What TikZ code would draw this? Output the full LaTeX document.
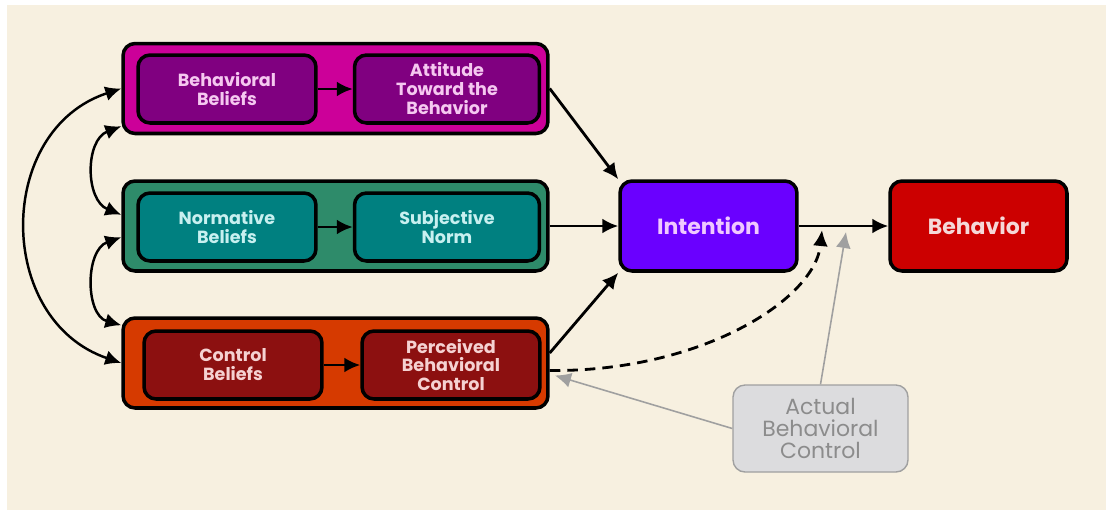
\documentclass[tikz,border=0pt]{standalone}
\usepackage{fontspec}
\setmainfont{Poppins}
\usetikzlibrary{arrows.meta,positioning}
\definecolor{paper}{RGB}{247,240,224}
\definecolor{attgroup}{RGB}{204,0,153}
\definecolor{attbox}{RGB}{128,0,128}
\definecolor{atttext}{RGB}{245,200,240}
\definecolor{normgroup}{RGB}{46,139,106}
\definecolor{normbox}{RGB}{0,128,128}
\definecolor{normtext}{RGB}{200,240,240}
\definecolor{ctrlgroup}{RGB}{214,58,0}
\definecolor{ctrlbox}{RGB}{140,16,16}
\definecolor{ctrltext}{RGB}{245,210,210}
\definecolor{intfill}{RGB}{106,0,255}
\definecolor{inttext}{RGB}{240,200,255}
\definecolor{behfill}{RGB}{204,0,0}
\definecolor{behtext}{RGB}{245,216,216}
\definecolor{actfill}{RGB}{220,220,222}
\definecolor{actline}{RGB}{160,160,160}
\definecolor{acttext}{RGB}{140,140,140}
\tikzset{%
  >={Latex[width=3mm,length=3.2mm]},
  % Specifications for style of nodes:
            base/.style = {rectangle, rounded corners=0.24cm, draw=black, line width=2pt,
                           text centered, align=center, inner sep=1pt,
                           font=\fontsize{10}{10.8}\selectfont\bfseries},
         group/.style = {base, minimum width=8.5cm, minimum height=1.8cm},
         inner/.style = {base, minimum width=3.56cm, minimum height=1.36cm},
        attgrp/.style = {group, fill=attgroup},
        attin/.style = {inner, fill=attbox, text=atttext},
       normgrp/.style = {group, fill=normgroup},
        normin/.style = {inner, fill=normbox, text=normtext},
       ctrlgrp/.style = {group, fill=ctrlgroup},
        ctrlin/.style = {inner, fill=ctrlbox, text=ctrltext},
       outcome/.style = {base, minimum width=3.54cm, minimum height=1.8cm,
                           font=\fontsize{12.5}{14}\selectfont\bfseries},
        actual/.style = {base, line width=0.8pt, draw=actline, fill=actfill,
                           text=acttext, minimum width=3.5cm, minimum height=1.74cm,
                           font=\fontsize{12.5}{12.5}\selectfont},
         link/.style = {->, line width=1.6pt},
}

\begin{document}
\begin{tikzpicture}[x=0.02cm, y=-0.02cm]
  % Background
  \fill[white] (0,0) rectangle (1112,515);
  \fill[paper] (7,5) rectangle (1106,510);
  \useasboundingbox (0,0) rectangle (1112,515);

  % Specification of nodes (position, etc.)
  \node (att)   [attgrp]  at (335.5,88.5) {};
  \node (norm)  [normgrp] at (335.5,226) {};
  \node (ctrl)  [ctrlgrp] at (335.5,363) {};

  \node (bb)    [attin]  at (227,89) {Behavioral\\Beliefs};
  \node (atb)   [attin, minimum width=3.7cm]  at (447,89) {Attitude\\Toward the\\Behavior};
  \node (nb)    [normin] at (227,227) {Normative\\Beliefs};
  \node (sn)    [normin, minimum width=3.7cm] at (447,227) {Subjective\\Norm};
  \node (cb)    [ctrlin] at (233,365) {Control\\Beliefs};
  \node (pbc)   [ctrlin] at (451,365) {Perceived\\Behavioral\\Control};

  \node (int)   [outcome, fill=intfill, text=inttext] at (708.5,226) {Intention};
  \node (beh)   [outcome, fill=behfill, text=behtext] at (978.5,226) {Behavior};
  \node (abc)   [actual] at (820.5,428.5) {Actual\\Behavioral\\Control};

  \coordinate (dashtip) at (822,230);
  \coordinate (greytip) at (846,232);

  % Arrows inside the groups
  \draw[link]  (bb) -- (atb);
  \draw[link]  (nb) -- (sn);
  \draw[link]  (cb) -- (pbc);

  % Correlations on the left
  \draw[<->, line width=1.4pt]  (att.west) .. controls (-5,130) and (-5,320) .. (ctrl.west);
  \draw[<->, line width=1.4pt]  (att.190) .. controls (85,140) and (85,200) .. (norm.177);
  \draw[<->, line width=1.4pt]  (norm.183) .. controls (85,250) and (85,315) .. (ctrl.170);

  % Arrows to intention and behavior
  \draw[link]  (att.east) -- (int.north west);
  \draw[link]  (norm.east) -- (int.west);
  \draw[link]  ([yshift=0.2cm]ctrl.east) -- (int.south west);
  \draw[link]  (int) -- (beh);
  \draw[link, dashed, dash pattern=on 6pt off 4pt]
               ([yshift=-0.15cm]ctrl.east) .. controls (700,372) and (815,300) .. (dashtip);
  \draw[->, actline, line width=0.9pt]  (abc.north) -- (greytip);
  \draw[->, actline, line width=0.9pt]  (abc.west) -- ([yshift=-0.25cm, xshift=3pt]ctrl.east);

\end{tikzpicture}
\end{document}
